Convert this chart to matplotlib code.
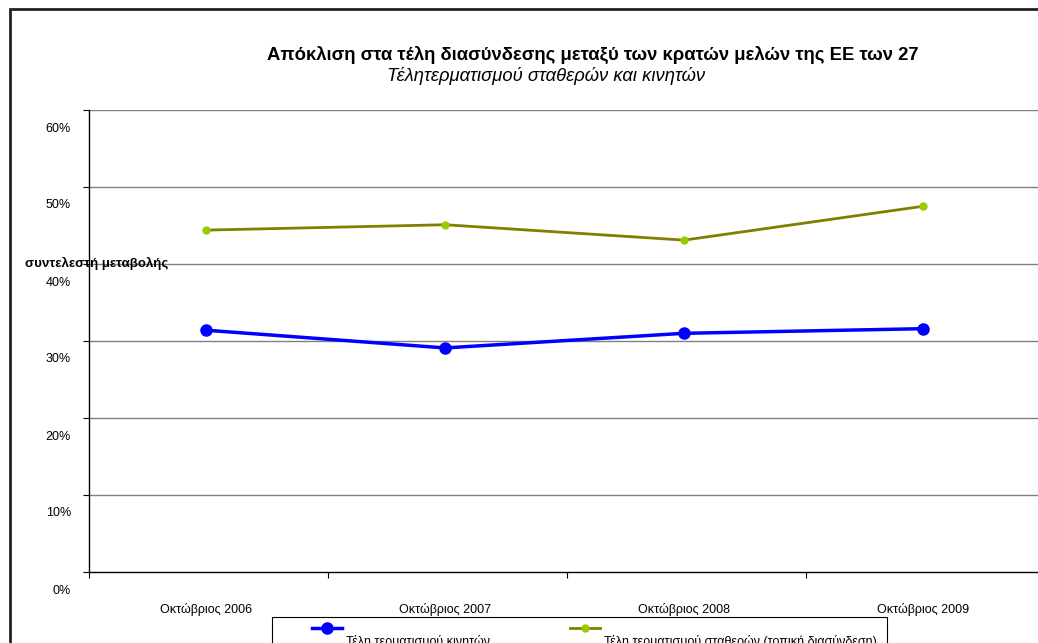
import numpy as np
import matplotlib
matplotlib.use("Agg")
import matplotlib.pyplot as plt
import matplotlib.transforms as mtransforms
from matplotlib.patches import Rectangle

plt.rcParams['font.family'] = ['Liberation Sans', 'DejaVu Sans']

# data
months = ['Οκτώβριος 2006', 'Οκτώβριος 2007', 'Οκτώβριος 2008', 'Οκτώβριος 2009']
mobile = [31.4, 29.1, 31.0, 31.6]
fixed = [44.4, 45.1, 43.1, 47.5]
series_labels = ['Τέλη τερματισμού κινητών',
                 'Τέλη τερματισμού σταθερών (τοπική διασύνδεση)']
yticks = [0, 10, 20, 30, 40, 50, 60]

W, H = 1038, 643
fig = plt.figure(figsize=(W / 100, H / 100), dpi=100)
ax = fig.add_axes([89 / W, 1 - 572 / H, 956 / W, 462 / H])

x = np.arange(len(months))
l1, = ax.plot(x, mobile, color='#0000FF', lw=2.5, marker='o', ms=8,
              mfc='#0000FF', mec='#0000FF', zorder=3)
l2, = ax.plot(x, fixed, color='#808000', lw=2, marker='o', ms=5,
              mfc='#99CC00', mec='#99CC00', zorder=3)

ax.set_xlim(-0.49, 3.51)
ax.set_ylim(0, 60)
ax.set_yticks(yticks)
ax.set_yticklabels([f'{v}%' for v in yticks], fontsize=9)
ax.set_xticks(x)
ax.set_xticklabels(months, fontsize=9)
ax.set_xticks(np.arange(-0.49, 3.0, 1.0), minor=True)
ax.tick_params(axis='x', which='major', length=0, pad=22)
ax.tick_params(axis='x', which='minor', length=4, direction='out', width=0.8)
ax.tick_params(axis='y', length=4, width=0.8, pad=9)

# tick labels in the original sit below their gridlines
off = mtransforms.ScaledTranslation(0, -17 / 100, fig.dpi_scale_trans)
for lab in ax.get_yticklabels():
    lab.set_transform(lab.get_transform() + off)

for v in yticks[1:]:
    ax.axhline(v, color='#808080', lw=1, zorder=1)

for s in ['top', 'right']:
    ax.spines[s].set_visible(False)
ax.spines['left'].set_linewidth(1)
ax.spines['bottom'].set_linewidth(1)

fig.text(593 / W, 1 - 55 / H,
         'Απόκλιση στα τέλη διασύνδεσης μεταξύ των κρατών μελών της ΕΕ των 27',
         ha='center', va='center', fontsize=13.3, fontweight='bold')
fig.text(546 / W, 1 - 76 / H, 'Τέλητερματισμού σταθερών και κινητών',
         ha='center', va='center', fontsize=13.2, style='italic')
fig.text(25 / W, 1 - 263 / H, 'συντελεστή μεταβολής',
         ha='left', va='center', fontsize=9.5, fontweight='bold')

# outer chart border
fig.patches.append(Rectangle((10 / W, -0.1), 1.2, 1 - 9 / H + 0.1,
                             transform=fig.transFigure, fill=False,
                             edgecolor='#222222', lw=2))
# legend box (runs off the bottom edge, as in the original)
fig.patches.append(Rectangle((272 / W, -0.1), 615 / W, 1 - 617 / H + 0.1,
                             transform=fig.transFigure, fill=False,
                             edgecolor='black', lw=0.8))

for line, label, x0 in [(l1, series_labels[0], 312), (l2, series_labels[1], 570)]:
    leg = fig.legend([line], [label], loc='upper left',
                     bbox_to_anchor=(x0 / W, 1 - 622 / H), fontsize=9,
                     frameon=False, borderaxespad=0, borderpad=0,
                     handlelength=2.4, handletextpad=0.3)
    for t in leg.get_texts():
        t.set_y(-13)

fig.savefig('out.png', dpi=100)
